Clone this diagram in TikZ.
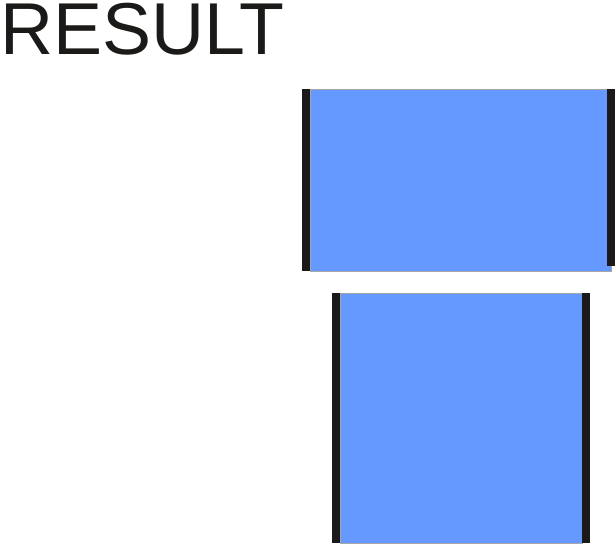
\documentclass[tikz,border=0pt]{standalone}
\usepackage{fontspec}
\setmainfont{Liberation Sans}
\definecolor{panelblue}{HTML}{6699FF}
\definecolor{bardark}{HTML}{1C1A19}
\begin{document}
\begin{tikzpicture}[x=1pt,y=-1pt,
  panel/.style={fill=panelblue,draw=gray!70,line width=0.6pt},
  bar/.style={fill=bardark}]
\useasboundingbox (0,0) rectangle (615,544);
\node[anchor=base west,inner sep=0pt,font=\fontsize{73.5}{80}\selectfont,text=bardark] (title) at (0,54.2) {RESULT};
% top panel
\path[panel] (310,89) rectangle (611,271);
\path[bar] (302,89) rectangle (310,271);
\path[bar] (607,89) rectangle (615,266);
% bottom panel
\path[panel] (340,293) rectangle (582,543);
\path[bar] (332,293) rectangle (340,543);
\path[bar] (582,293) rectangle (590,543);
\end{tikzpicture}
\end{document}
